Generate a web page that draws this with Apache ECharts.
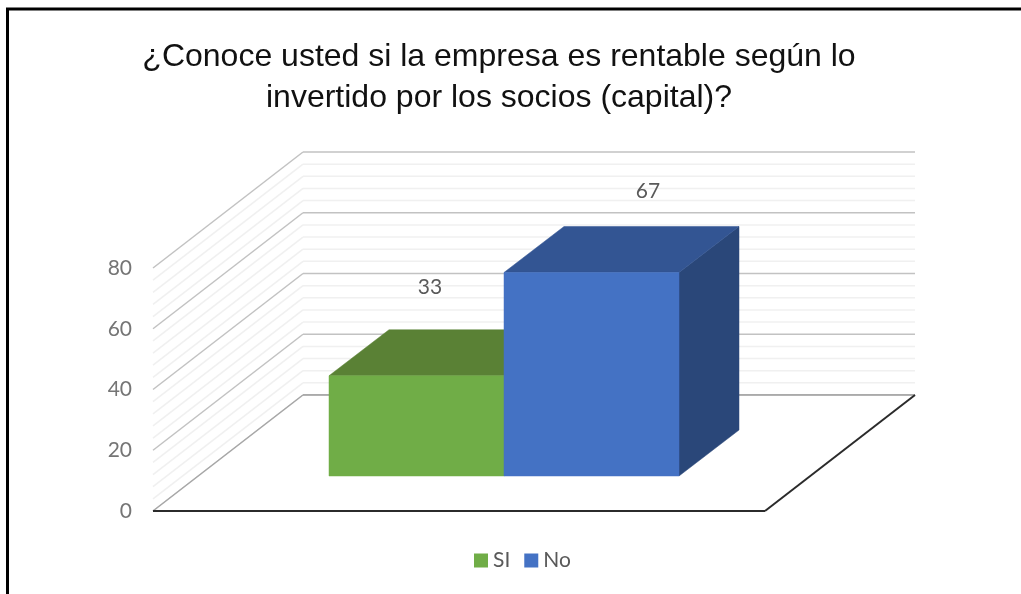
<!DOCTYPE html>
<html>
<head>
<meta charset="utf-8">
<style>html,body{margin:0;padding:0;background:#fff}#chart{width:1021px;height:594px}</style>
<script src="https://cdn.jsdelivr.net/npm/echarts@6/dist/echarts.min.js"></script>
</head>
<body>
<div id="chart"></div>
<script>
// Survey answers
const categories = ['Rentabilidad'];
const siValues = [33];
const noValues = [67];
// Value axis levels drawn on the back and side walls
const majorLevels = [0, 20, 40, 60, 80];
const minorLevels = [4, 8, 12, 16, 24, 28, 32, 36, 44, 48, 52, 56, 64, 68, 72, 76];

// Oblique projection used for the pseudo-3D box
const DEPTH_X = 150, DEPTH_Y = -116;   // floor depth
const INSET_X = 45, INSET_Y = -35;     // bars sit inside the floor
const BAR_DX = 60, BAR_DY = -46;       // bar depth
const BAR_W = 175;

const chart = echarts.init(document.getElementById('chart'));

function poly(points, fill, z2) {
  return { type: 'polygon', shape: { points }, style: { fill, stroke: fill, lineWidth: 0.5 }, z2 };
}
function seg(a, b, stroke, lineWidth, z2) {
  return { type: 'line', shape: { x1: a[0], y1: a[1], x2: b[0], y2: b[1] }, style: { stroke, lineWidth, fill: null }, z2 };
}

// Wall grid: one item per level, running along the side wall and the back wall
function wallItem(color, width) {
  return function (params, api) {
    const p = api.coord([0, api.value(0)]);
    const cs = params.coordSys;
    const l = [cs.x, p[1]];
    const c = [cs.x + DEPTH_X, p[1] + DEPTH_Y];
    const r = [cs.x + cs.width + DEPTH_X, p[1] + DEPTH_Y];
    return { type: 'group', children: [seg(l, c, color, width), seg(c, r, color, width)] };
  };
}

// Floor parallelogram with its dark front and right edges
function floorItem(params, api) {
  const cs = params.coordSys;
  const y0 = api.coord([0, 0])[1];
  const fl = [cs.x, y0], fr = [cs.x + cs.width, y0];
  const bl = [fl[0] + DEPTH_X, y0 + DEPTH_Y], br = [fr[0] + DEPTH_X, y0 + DEPTH_Y];
  return { type: 'group', children: [
    poly([fl, fr, br, bl], '#ffffff', 0),
    seg(bl, br, '#9a9a9a', 1.6, 1),
    seg(fl, bl, '#a6a6a6', 1.4, 1),
    seg(fl, fr, '#2b2b2b', 2, 2),
    seg(fr, br, '#2b2b2b', 2, 2)
  ] };
}

// One box: slot -1 sits left of the band centre, slot 0 right of it
function boxItem(slot, front, top, side, labelDx, labelDy) {
  return function (params, api) {
    const v = api.value(1);
    const tip = api.coord([api.value(0), v]);
    const base = api.coord([api.value(0), 0]);
    const x0 = tip[0] + INSET_X + slot * BAR_W;
    const x1 = x0 + BAR_W;
    const yT = tip[1] + INSET_Y, yB = base[1] + INSET_Y;
    const d = (p) => [p[0] + BAR_DX, p[1] + BAR_DY];
    return { type: 'group', children: [
      poly([[x1, yT], d([x1, yT]), d([x1, yB]), [x1, yB]], side, 1),
      poly([[x0, yT], [x1, yT], d([x1, yT]), d([x0, yT])], top, 1),
      poly([[x0, yT], [x1, yT], [x1, yB], [x0, yB]], front, 2),
      { type: 'text', z2: 5, style: {
          text: String(v), x: (x0 + x1) / 2 + labelDx, y: yT + labelDy,
          align: 'center', verticalAlign: 'middle',
          fill: '#595959', font: '21px Lato, sans-serif'
      } }
    ] };
  };
}

const levelData = (arr) => arr.map((v) => [v]);

chart.setOption({
  animation: false,
  backgroundColor: '#ffffff',
  title: {
    text: '¿Conoce usted si la empresa es rentable según lo\ninvertido por los socios (capital)?',
    left: 494, top: 32, textAlign: 'center',
    textStyle: { fontFamily: 'Liberation Sans', fontWeight: 'normal', fontSize: 32, lineHeight: 41, color: '#111111' }
  },
  legend: {
    left: 474, top: 550, padding: 0, icon: 'rect', itemWidth: 14, itemHeight: 14, itemGap: 14,
    data: ['SI', 'No'],
    textStyle: { fontFamily: 'Lato', fontSize: 21, color: '#595959' }
  },
  grid: { left: 153, right: 256, top: 268, bottom: 83 },
  xAxis: { type: 'category', data: categories, axisLine: { show: false }, axisTick: { show: false }, axisLabel: { show: false }, splitLine: { show: false } },
  yAxis: {
    type: 'value', min: 0, max: 80, interval: 20,
    axisLine: { show: false }, axisTick: { show: false }, splitLine: { show: false },
    axisLabel: { margin: 21, padding: [3, 0, 0, 0], fontFamily: 'Lato', fontSize: 21, color: '#757575' }
  },
  series: [
    { type: 'custom', name: 'grid-minor', silent: true, clip: false, z: 1, data: levelData(minorLevels), encode: { y: 0 }, renderItem: wallItem('#f0f0f0', 1.5) },
    { type: 'custom', name: 'grid-major', silent: true, clip: false, z: 2, data: levelData(majorLevels), encode: { y: 0 }, renderItem: wallItem('#c2c2c2', 1.5) },
    { type: 'custom', name: 'floor', silent: true, clip: false, z: 3, data: [[0]], renderItem: floorItem },
    { type: 'custom', name: 'SI', clip: false, z: 4, itemStyle: { color: '#70ad47' },
      data: siValues.map((v, i) => [i, v]), encode: { x: 0, y: 1 },
      renderItem: boxItem(-1, '#70ad47', '#5a8135', '#4a6b2c', 13.5, -89) },
    { type: 'custom', name: 'No', clip: false, z: 5, itemStyle: { color: '#4472c4' },
      data: noValues.map((v, i) => [i, v]), encode: { x: 0, y: 1 },
      renderItem: boxItem(0, '#4472c4', '#335593', '#2a4779', 56.5, -81) }
  ],
  graphic: [
    { type: 'polyline', z: 100, silent: true,
      shape: { points: [[7.5, 594], [7.5, 9], [1021, 9]] },
      style: { stroke: '#000000', lineWidth: 3, fill: null } }
  ]
});
</script>
</body>
</html>
